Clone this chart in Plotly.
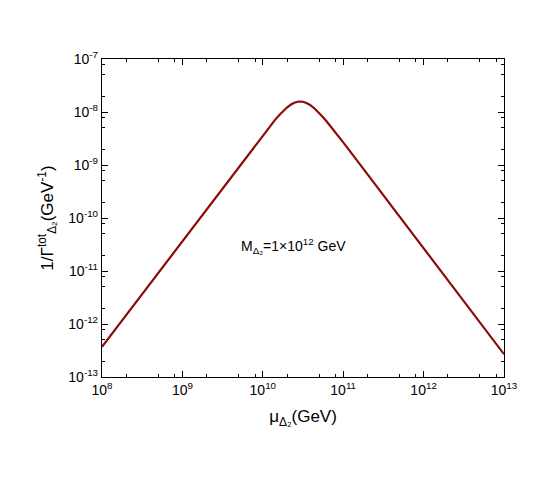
import plotly.graph_objects as go

# data (log10 values)
log_mu = [8.0, 8.5, 9.0, 9.5, 9.75, 9.9, 10.0, 10.05, 10.1, 10.15, 10.2, 10.25, 10.3, 10.35,
          10.4, 10.45, 10.5, 10.55, 10.6, 10.65, 10.7, 10.75, 10.8, 10.85, 10.9, 10.95,
          11.0, 11.1, 11.25, 11.5, 12.0, 12.5, 13.0]
log_inv_gamma = [-12.43, -11.43, -10.43, -9.43, -8.93, -8.632, -8.436, -8.339, -8.245, -8.153,
                 -8.066, -7.986, -7.916, -7.859, -7.820, -7.802, -7.807, -7.834, -7.880,
                 -7.943, -8.017, -8.100, -8.190, -8.282, -8.378, -8.475, -8.573, -8.771,
                 -9.07, -9.57, -10.57, -11.57, -12.57]

mu = [10 ** v for v in log_mu]
inv_gamma = [10 ** v for v in log_inv_gamma]

x_ticks = [1e8, 1e9, 1e10, 1e11, 1e12, 1e13]
x_ticktext = ["10<sup>8</sup>", "10<sup>9</sup>", "10<sup>10</sup>", "10<sup>11</sup>",
              "10<sup>12</sup>", "10<sup>13</sup>"]
y_ticks = [1e-13, 1e-12, 1e-11, 1e-10, 1e-9, 1e-8, 1e-7]
y_ticktext = ["10<sup>-13</sup>", "10<sup>-12</sup>", "10<sup>-11</sup>", "10<sup>-10</sup>",
              "10<sup>-9</sup>", "10<sup>-8</sup>", "10<sup>-7</sup>"]
x_minor = [m * 10 ** d for d in range(8, 13) for m in (2, 5, 8)]
y_minor = [m * 10.0 ** d for d in range(-13, -7) for m in (2, 5, 8)]

font = "Liberation Sans, Arial, sans-serif"

fig = go.Figure()
fig.add_trace(go.Scatter(x=mu, y=inv_gamma, mode="lines",
                         line=dict(color="#8b0a0a", width=2.2),
                         showlegend=False))

axis_common = dict(
    type="log", showgrid=False, zeroline=False, showline=True, linecolor="black",
    linewidth=1.3, mirror="ticks", ticks="inside", ticklen=6, tickwidth=1.2,
    tickcolor="black", automargin=False,
    tickfont=dict(family=font, size=14, color="black"),
)

fig.update_xaxes(**axis_common, range=[8, 13], tickmode="array", tickvals=x_ticks,
                 ticktext=x_ticktext,
                 minor=dict(tickmode="array", tickvals=x_minor, ticks="inside",
                            ticklen=3, tickwidth=1, tickcolor="black"),
                 title=dict(text="μ<sub>Δ₂</sub>(GeV)", font=dict(family=font, size=17, color="black"),
                            standoff=13))
fig.update_yaxes(**axis_common, range=[-13, -7], tickmode="array", tickvals=y_ticks,
                 ticktext=y_ticktext,
                 minor=dict(tickmode="array", tickvals=y_minor, ticks="inside",
                            ticklen=3, tickwidth=1, tickcolor="black"),
                 title=dict(text="1/Γ<sup>tot</sup><sub>Δ₂</sub>(GeV<sup>-1</sup>)",
                            font=dict(family=font, size=17, color="black"), standoff=10))

fig.add_annotation(x=10.38, y=-10.52, xref="x", yref="y",
                   text="M<sub>Δ₂</sub>=1×10<sup>12</sup> GeV", showarrow=False,
                   font=dict(family=font, size=14, color="black"))

fig.update_layout(width=545, height=491, paper_bgcolor="white", plot_bgcolor="white",
                  margin=dict(l=94, r=49, t=51, b=122))

fig.write_html("out.html")
